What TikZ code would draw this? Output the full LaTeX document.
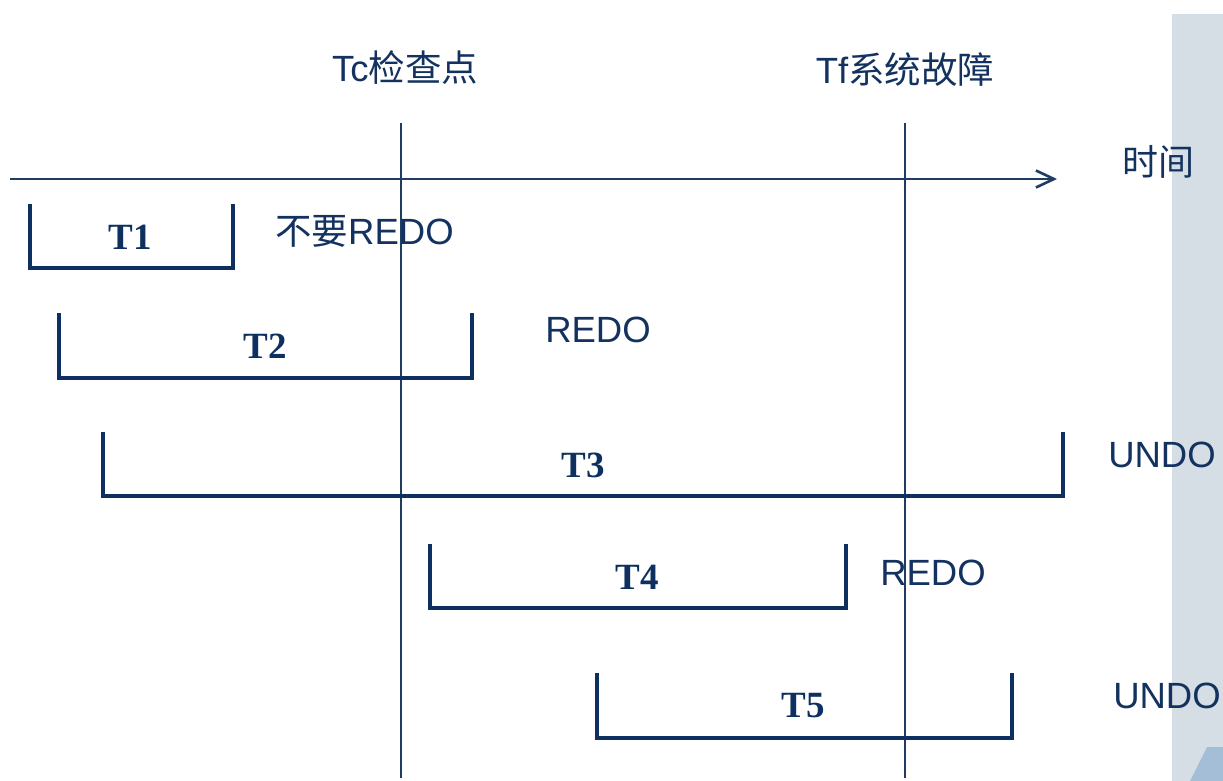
\documentclass[tikz,border=0pt]{standalone}
\usepackage{fontspec}
\setmainfont{Liberation Sans}
\newfontfamily\cjk{Noto Sans CJK SC}
\newfontfamily\tnr{Liberation Serif}
\usetikzlibrary{arrows.meta}
\definecolor{navy}{HTML}{0D3060}
\definecolor{linec}{HTML}{1F3D63}
\definecolor{txt}{HTML}{13325F}
\definecolor{panel}{HTML}{D5DEE5}
\definecolor{tri}{HTML}{A5BED8}
\tikzset{
  bracket/.style={draw=navy, line width=4.2pt, line join=miter},
  vline/.style={draw=linec, line width=1.6pt},
  lbl/.style={text=txt, font=\fontsize{36.5}{40}\selectfont, inner sep=0pt},
  tlbl/.style={text=navy, font=\tnr\bfseries\fontsize{37}{40}\selectfont, inner sep=0pt},
}
\begin{document}
\begin{tikzpicture}[x=1pt,y=-1pt]
\useasboundingbox (0,0) rectangle (1223,781);
% right panel
\fill[panel] (1172,14) rectangle (1223,781);
\fill[tri] (1190,781) -- (1207,747) -- (1223,747) -- (1223,781) -- cycle;
% time axis
\coordinate (as) at (10,179);
\coordinate (ae) at (1057,179);
\draw[vline, -{Straight Barb[length=18pt,width=17pt,line width=2.6pt]}] (as) -- (ae);
\node[lbl, font=\cjk\fontsize{36}{40}\selectfont] (time) at (1158,162) {时间};
% checkpoint / failure lines
\coordinate (tc1) at (401,123); \coordinate (tc2) at (401,778);
\coordinate (tf1) at (905,123); \coordinate (tf2) at (905,778);
\draw[vline] (tc1) -- (tc2);
\draw[vline] (tf1) -- (tf2);
\node[lbl] (tc) at (405,67) {Tc{\cjk 检查点}};
\node[lbl] (tf) at (905,70) {Tf{\cjk 系统故障}};
% transactions
\draw[bracket] (30,204) -- (30,268) -- (233,268) -- (233,204);
\node[tlbl] (t1) at (130,237) {T1};
\node[lbl, anchor=west] (r1) at (275,231) {{\cjk 不要}REDO};

\draw[bracket] (59,313) -- (59,378) -- (472,378) -- (472,313);
\node[tlbl] (t2) at (265,346) {T2};
\node[lbl] (r2) at (598,330) {REDO};

\draw[bracket] (103,432) -- (103,496) -- (1063,496) -- (1063,432);
\node[tlbl] (t3) at (583,465) {T3};
\node[lbl] (u3) at (1162,455) {UNDO};

\draw[bracket] (430,544) -- (430,608) -- (846,608) -- (846,544);
\node[tlbl] (t4) at (637,577) {T4};
\node[lbl] (r4) at (933,573) {REDO};

\draw[bracket] (597,673) -- (597,738) -- (1012,738) -- (1012,673);
\node[tlbl] (t5) at (803,706) {T5};
\node[lbl] (u5) at (1167,696) {UNDO};
\end{tikzpicture}
\end{document}
